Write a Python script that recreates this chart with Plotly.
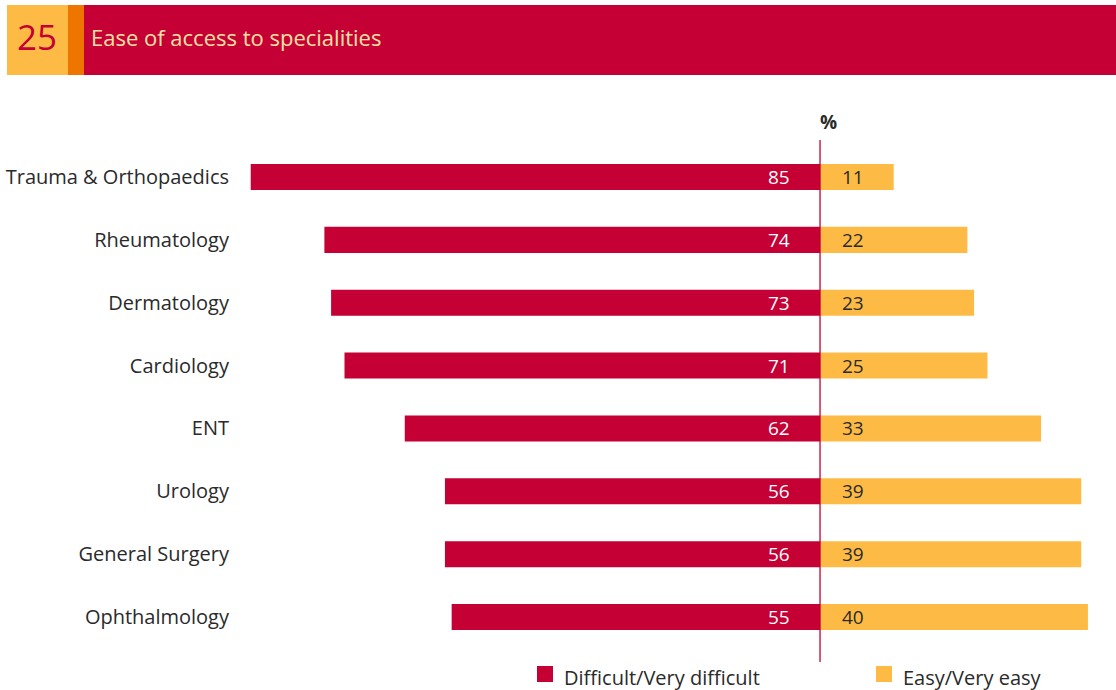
import plotly.graph_objects as go

categories = ["Trauma & Orthopaedics", "Rheumatology", "Dermatology", "Cardiology",
              "ENT", "Urology", "General Surgery", "Ophthalmology"]
difficult = [85, 74, 73, 71, 62, 56, 56, 55]
easy = [11, 22, 23, 25, 33, 39, 39, 40]
series_names = ["Difficult/Very difficult", "Easy/Very easy"]

CRIMSON = "#C40034"
YELLOW = "#FDBB45"
ORANGE = "#EE7600"
FONT = "Open Sans"
TXT = "#2a2a2a"

fig = go.Figure()
fig.add_trace(go.Bar(y=categories, x=[-v for v in difficult], orientation="h",
                     name=series_names[0], marker_color=CRIMSON,
                     marker_line_width=0, showlegend=False))
fig.add_trace(go.Bar(y=categories, x=easy, orientation="h",
                     name=series_names[1], marker_color=YELLOW,
                     marker_line_width=0, showlegend=False))

for c, d, e in zip(categories, difficult, easy):
    fig.add_annotation(x=0, y=c, text=str(d), showarrow=False, xanchor="right",
                       xshift=-28, font=dict(family=FONT, size=19, color="white"))
    fig.add_annotation(x=0, y=c, text=str(e), showarrow=False, xanchor="left",
                       xshift=20, font=dict(family=FONT, size=19, color=TXT))

# zero line
fig.add_shape(type="line", x0=0, x1=0, y0=-0.588, y1=7.715, xref="x", yref="y",
              line=dict(color=CRIMSON, width=1.3))

TOP, BOT, LEFT, RIGHT = 140, 662, 240, 1100

def px(x):
    return (x - LEFT) / (RIGHT - LEFT)
def py(y):
    return (BOT - y) / (BOT - TOP)

# header
fig.add_shape(type="rect", xref="paper", yref="paper", x0=px(7), x1=px(68),
              y0=py(75), y1=py(5), fillcolor=YELLOW, line_width=0, layer="below")
fig.add_shape(type="rect", xref="paper", yref="paper", x0=px(68), x1=px(84),
              y0=py(75), y1=py(5), fillcolor=ORANGE, line_width=0, layer="below")
fig.add_shape(type="rect", xref="paper", yref="paper", x0=px(84), x1=px(1120),
              y0=py(75), y1=py(5), fillcolor=CRIMSON, line_width=0, layer="below")
fig.add_annotation(xref="paper", yref="paper", x=px(37), y=py(37), text="25",
                   showarrow=False, xanchor="center", yanchor="middle",
                   font=dict(family=FONT, size=35, color=CRIMSON))
fig.add_annotation(xref="paper", yref="paper", x=px(89), y=py(37),
                   text="Ease of access to specialities", showarrow=False,
                   xanchor="left", yanchor="middle",
                   font=dict(family=FONT, size=22, color="#FFE1A6"))
fig.add_annotation(xref="x", yref="paper", x=0, y=py(122), text="<b>%</b>",
                   showarrow=False, xanchor="center", yanchor="middle", xshift=8,
                   font=dict(family=FONT, size=19, color=TXT))

# legend (custom: squares + labels)
legend_colors = [CRIMSON, YELLOW]
legend_x = [537, 876]
for name, col, lx in zip(series_names, legend_colors, legend_x):
    fig.add_shape(type="rect", xref="paper", yref="paper", x0=px(lx), x1=px(lx + 16),
                  y0=py(682), y1=py(666), fillcolor=col, line_width=0)
    fig.add_annotation(xref="paper", yref="paper", x=px(lx + 25), y=py(677), text=name,
                       showarrow=False, xanchor="left", yanchor="middle",
                       font=dict(family=FONT, size=20, color=TXT))

fig.update_layout(
    width=1116, height=690,
    margin=dict(l=LEFT, r=1116 - RIGHT, t=TOP, b=690 - BOT, autoexpand=False),
    barmode="relative", bargap=0.585,
    plot_bgcolor="white", paper_bgcolor="white",
    showlegend=False,
    font=dict(family=FONT, size=20, color=TXT),
)
fig.update_xaxes(range=[-86.6, 41.8], visible=False, zeroline=False, showgrid=False)
fig.update_yaxes(categoryorder="array", categoryarray=categories, range=[7.715, -0.588],
                 showgrid=False, zeroline=False, ticks="", showline=False,
                 ticklabelstandoff=10, tickfont=dict(family=FONT, size=20, color=TXT))

fig.write_html("out.html")
